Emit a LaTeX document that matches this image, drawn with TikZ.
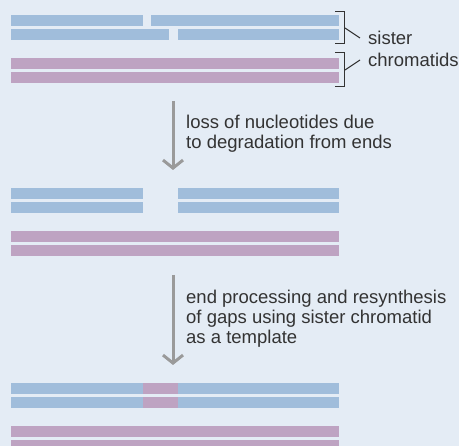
\documentclass[tikz,border=0pt]{standalone}
\usepackage{fontspec}
\setmainfont{Liberation Sans}
\usetikzlibrary{arrows.meta}

\definecolor{bgcol}{HTML}{E4ECF5}
\definecolor{bluestrand}{HTML}{A0BDDB}
\definecolor{pinkstrand}{HTML}{BEA3C2}
\definecolor{arrowgray}{HTML}{9A9A9A}
\definecolor{textgray}{HTML}{333333}

\begin{document}
\begin{tikzpicture}[x=1pt,y=-1pt,
    bluebar/.style={fill=bluestrand},
    pinkbar/.style={fill=pinkstrand},
    steparrow/.style={-{Straight Barb[length=8pt,width=20pt]},line width=3pt,arrowgray},
    steptext/.style={text=textgray,font=\fontsize{18.5}{20}\selectfont,align=left,anchor=north west,inner sep=0pt}]
        \clip (0,0) rectangle (459,446);
        \fill[bgcol] (0,0) rectangle (459,446);

        % first stage: nicked blue strands over the pink pair
        \fill[bluebar] (11,15) rectangle (143,26);
        \fill[bluebar] (151,15) rectangle (339,26);
        \fill[bluebar] (11,29) rectangle (169,40);
        \fill[bluebar] (178,29) rectangle (339,40);
        \foreach \y in {58,72} % edit here for the pink rows
        \fill[pinkbar] (11,\y) rectangle (339,\y+11);

        % brackets and the label
        \draw[textgray,line width=1pt] (335,12) -- (344,12) -- (344,44) -- (335,44);
        \draw[textgray,line width=1pt] (335,53) -- (344,53) -- (344,87) -- (335,87);
        \coordinate (bluebrk) at (345,28);
        \coordinate (pinkbrk) at (345,70);
        \node[steptext,font=\fontsize{18.5}{22}\selectfont] (sister) at (368,31) {sister\\chromatids};
        \coordinate (sistertip) at (360,38);
        \coordinate (chromtip) at (360,60);
        \draw[textgray,line width=1pt] (bluebrk) -- (sistertip);
        \draw[textgray,line width=1pt] (pinkbrk) -- (chromtip);

        % first step
        \coordinate (top1) at (173,101);
        \coordinate (tip1) at (173,170);
        \draw[steparrow] (top1) -- (tip1);
        \node[steptext] (loss) at (186,115) {loss of nucleotides due\\to degradation from ends};

        % second stage: gap in both blue strands
        \foreach \y in {188,202} % edit here for the blue rows
        {
        \fill[bluebar] (11,\y) rectangle (143,\y+11);
        \fill[bluebar] (178,\y) rectangle (339,\y+11);
        }
        \foreach \y in {231,245}
        \fill[pinkbar] (11,\y) rectangle (339,\y+11);

        % second step
        \coordinate (top2) at (173,275);
        \coordinate (tip2) at (173,365);
        \draw[steparrow] (top2) -- (tip2);
        \node[steptext] (repair) at (186,290) {end processing and resynthesis\\of gaps using sister chromatid\\as a template};

        % third stage: gap filled from the sister
        \foreach \y in {383,397}
        {
        \fill[bluebar] (11,\y) rectangle (339,\y+11);
        \fill[pinkbar] (143,\y) rectangle (178,\y+11);
        }
        \foreach \y in {426,440}
        \fill[pinkbar] (11,\y) rectangle (339,\y+11);
\end{tikzpicture}
\end{document}
